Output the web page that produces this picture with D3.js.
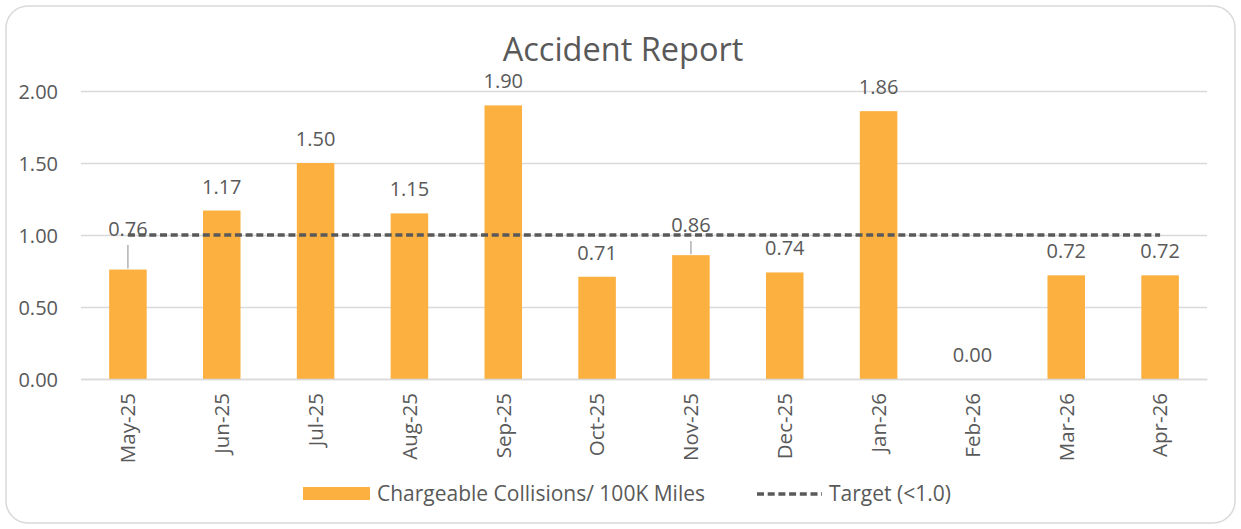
<!DOCTYPE html>
<html>
<head>
<meta charset="utf-8">
<script src="https://cdn.jsdelivr.net/npm/d3@7"></script>
<style>
  body { margin: 0; background: #fff; }
  text { font-family: "Open Sans", sans-serif; fill: #595959; }
</style>
</head>
<body>
<div id="chart"></div>
<script>
// accident report: monthly collision rate vs target
var months = ["May-25", "Jun-25", "Jul-25", "Aug-25", "Sep-25", "Oct-25",
              "Nov-25", "Dec-25", "Jan-26", "Feb-26", "Mar-26", "Apr-26"];
var collisions = [0.76, 1.17, 1.50, 1.15, 1.90, 0.71, 0.86, 0.74, 1.86, 0.00, 0.72, 0.72];
var target = [1, 1, 1, 1, 1, 1, 1, 1, 1, 1, 1, 1];
var yTicks = [0, 0.5, 1, 1.5, 2];

var width = 1241;
var height = 529;
var margin = {top: 91, right: 34, bottom: 150, left: 81};
var plotW = width - margin.left - margin.right;
var plotH = height - margin.top - margin.bottom;

var svg = d3.select("#chart").append("svg")
    .attr("width", width)
    .attr("height", height);

svg.append("rect")
    .attr("x", 6).attr("y", 6)
    .attr("width", width - 12).attr("height", height - 12)
    .attr("rx", 22).attr("ry", 22)
    .attr("fill", "#fff")
    .attr("stroke", "#d9d9d9")
    .attr("stroke-width", 1.5);

svg.append("text")
    .attr("x", 623).attr("y", 61)
    .attr("text-anchor", "middle")
    .style("font-size", "32.5px")
    .text("Accident Report");

var g = svg.append("g")
    .attr("transform", "translate(" + margin.left + "," + margin.top + ")");

var x = d3.scaleBand().domain(months).range([0, plotW]).paddingInner(0.6).paddingOuter(0.3);
var y = d3.scaleLinear().domain([0, 2]).range([plotH, 0]);

// gridlines
var yAxis = d3.axisLeft(y).tickValues(yTicks).tickSize(-plotW).tickFormat(d3.format(".2f"));
var ya = g.append("g").call(yAxis);
ya.select(".domain").remove();
ya.selectAll(".tick line").attr("stroke", "#d9d9d9").attr("stroke-width", 1.3);
ya.selectAll(".tick text")
    .attr("x", -23)
    .attr("dy", "0.36em")
    .style("font-size", "20px")
    .style("font-family", "'Open Sans', sans-serif")
    .attr("fill", "#595959");

// bars
g.selectAll("rect.bar").data(collisions).enter().append("rect")
    .attr("class", "bar")
    .attr("x", function(d, i) { return x(months[i]); })
    .attr("y", function(d) { return y(d); })
    .attr("width", x.bandwidth())
    .attr("height", function(d) { return plotH - y(d); })
    .attr("fill", "#fbb040");

// x axis
var xAxis = d3.axisBottom(x).tickSize(0);
var xa = g.append("g").attr("transform", "translate(0," + plotH + ")").call(xAxis);
xa.select(".domain").attr("stroke", "#d9d9d9").attr("stroke-width", 1.3);
xa.selectAll(".tick text")
    .attr("transform", "rotate(-90)")
    .attr("x", -14)
    .attr("y", 0)
    .attr("dy", "0.36em")
    .attr("text-anchor", "end")
    .style("font-size", "20.5px")
    .style("font-family", "'Open Sans', sans-serif")
    .attr("fill", "#595959");

// target line
var line = d3.line()
    .x(function(d, i) { return x(months[i]) + x.bandwidth() / 2; })
    .y(function(d) { return y(d); });
g.append("path")
    .datum(target)
    .attr("d", line)
    .attr("fill", "none")
    .attr("stroke", "#595959")
    .attr("stroke-width", 3.3)
    .attr("stroke-dasharray", "7,3.7");

// data labels; two are moved up with leader lines as in the original
var shifted = {"May-25": 236, "Nov-25": 232};
var labels = g.selectAll("g.lbl").data(collisions).enter().append("g").attr("class", "lbl");
labels.each(function(d, i) {
    var cx = x(months[i]) + x.bandwidth() / 2;
    var sel = d3.select(this);
    var by = shifted[months[i]];
    var base = by !== undefined ? by - margin.top : y(d) - 17;
    if (by !== undefined) {
        sel.append("line")
            .attr("x1", cx).attr("x2", cx)
            .attr("y1", base + 9).attr("y2", y(d) - 1)
            .attr("stroke", "#a6a6a6").attr("stroke-width", 1.3);
    }
    sel.append("text")
        .attr("x", cx).attr("y", base)
        .attr("text-anchor", "middle")
        .style("font-size", "20px")
        .text(d3.format(".2f")(d));
});

// legend
var leg = svg.append("g");
leg.append("rect").attr("x", 303).attr("y", 487).attr("width", 67).attr("height", 13).attr("fill", "#fbb040");
leg.append("text").attr("x", 377).attr("y", 501).style("font-size", "21px")
    .text("Chargeable Collisions/ 100K Miles");
leg.append("line").attr("x1", 757).attr("x2", 822).attr("y1", 494).attr("y2", 494)
    .attr("stroke", "#595959").attr("stroke-width", 3.3).attr("stroke-dasharray", "7,3.7");
leg.append("text").attr("x", 829).attr("y", 501).style("font-size", "21px")
    .text("Target (<1.0)");
</script>
</body>
</html>
